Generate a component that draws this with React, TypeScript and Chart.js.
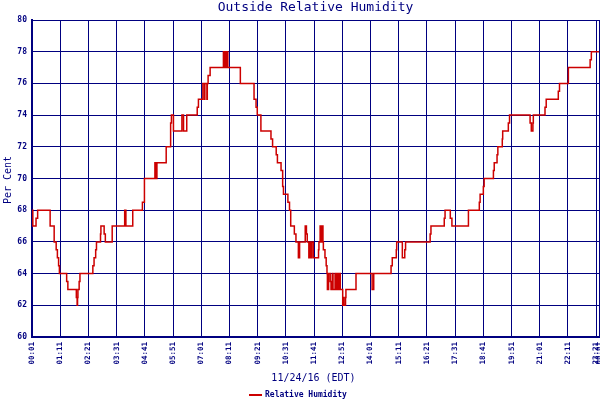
import React, { useEffect, useRef } from 'react';
import { Chart, registerables, type ChartConfiguration, type Plugin } from 'chart.js';

Chart.register(...registerables);

const NAVY = '#000080';
const RED = '#cc0000';
const MONO = '"DejaVu Sans Mono", "Liberation Mono", monospace';

// sample number (one per reading) where the humidity steps to a new value
const sampleIdx = [
  0, 2, 10, 14, 45, 55, 60, 63, 66, 68, 86, 89, 110, 112, 113, 114, 117, 119,
  151, 154, 158, 160, 170, 171, 179, 182, 199, 230, 233, 250, 274, 279, 305, 308,
  310, 333, 344, 346, 351, 372, 376, 384, 410, 413, 424, 428, 429, 434, 435, 437,
  442, 475, 478, 481, 483, 485, 486, 517, 551, 556, 559, 568, 593, 597, 606, 609,
  618, 622, 624, 635, 639, 642, 651, 655, 661, 664, 678, 681, 683, 687, 689, 692,
  694, 698, 711, 712, 715, 717, 719, 722, 723, 727, 730, 732, 733, 736, 740, 742,
  745, 747, 752, 755, 758, 760, 763, 765, 771, 773, 774, 778, 779, 804, 844, 848,
  891, 894, 904, 905, 919, 925, 927, 988, 990, 1023, 1025, 1038, 1042, 1083, 1110,
  1112, 1120, 1122, 1145, 1147, 1154, 1156, 1167, 1168, 1182, 1185, 1236, 1239,
  1243, 1244, 1273, 1276, 1306, 1309, 1331, 1385, 1388, 1407,
];

const humidity = [
  68, 67, 67.5, 68, 67, 66, 65.5, 65, 64.5, 64, 63.5, 63, 62.5, 62, 62.5, 63, 63.5, 64,
  64.5, 65, 65.5, 66, 66.5, 67, 66.5, 66, 67, 68, 67, 68, 68.5, 70, 71, 70,
  71, 72, 73.5, 74, 73, 74, 73, 74, 74.5, 75, 76, 75, 76, 75, 76, 76.5,
  77, 78, 77, 78, 77, 78, 77, 76, 75, 74.5, 74, 73, 72.5, 72, 71.5, 71,
  70.5, 69.5, 69, 68.5, 68, 67, 66.5, 66, 65, 66, 67, 66.5, 66, 65, 66, 65,
  66, 65, 65.5, 66, 67, 66, 67, 66, 65.5, 65, 64.5, 64, 63, 64, 63.5, 63,
  64, 63, 64, 63, 64, 63, 64, 63, 62, 62.5, 62, 62.5, 63, 64, 63, 64,
  64.5, 65, 65.5, 66, 65, 65.5, 66, 66.5, 67, 67.5, 68, 67.5, 67, 68, 68.5,
  69, 69.5, 70, 70.5, 71, 71.5, 72, 72.5, 73, 73.5, 74, 73.5, 73,
  73.5, 74, 74.5, 75, 75.5, 76, 77, 77.5, 78, 78,
];

const tickIdx = [
  0, 70, 140, 210, 280, 350, 420, 490, 560, 630, 700, 770, 840, 910, 980, 1050,
  1120, 1190, 1260, 1330, 1400, 1407,
];
const tickLabels = [
  '00:01', '01:11', '02:21', '03:31', '04:41', '05:51', '07:01', '08:11', '09:21',
  '10:31', '11:41', '12:51', '14:01', '15:11', '16:21', '17:31', '18:41', '19:51',
  '21:01', '22:11', '23:21', '00:01',
];

const titleText = 'Outside Relative Humidity';
const xTitle = '11/24/16 (EDT)';
const yTitle = 'Per Cent';
const seriesName = 'Relative Humidity';

const textPlugin: Plugin = {
  id: 'texts',
  afterDraw(chart) {
    const { ctx, chartArea } = chart;
    const cx = (chartArea.left + chartArea.right) / 2;
    ctx.save();
    ctx.fillStyle = NAVY;
    ctx.textAlign = 'center';
    ctx.textBaseline = 'middle';

    ctx.font = `13px ${MONO}`;
    ctx.fillText(titleText, cx, 8);

    ctx.font = `10px ${MONO}`;
    ctx.fillText(xTitle, cx - 2, 378);

    ctx.save();
    ctx.translate(8, 180);
    ctx.rotate(-Math.PI / 2);
    ctx.fillText(yTitle, 0, 0);
    ctx.restore();

    // legend
    ctx.strokeStyle = RED;
    ctx.lineWidth = 2;
    ctx.beginPath();
    ctx.moveTo(249, 395);
    ctx.lineTo(262, 395);
    ctx.stroke();
    ctx.textAlign = 'left';
    ctx.font = `bold 8px ${MONO}`;
    ctx.fillText(seriesName, 265, 395);
    ctx.restore();
  },
};

export default function App() {
  const canvasRef = useRef<HTMLCanvasElement>(null);

  useEffect(() => {
    if (!canvasRef.current) return;

    const config: ChartConfiguration = {
      type: 'line',
      data: {
        datasets: [
          {
            label: seriesName,
            data: sampleIdx.map((x, i) => ({ x, y: humidity[i] })),
            borderColor: RED,
            borderWidth: 1.5,
            pointRadius: 0,
            stepped: true,
            fill: false,
          },
        ],
      },
      options: {
        animation: false,
        responsive: true,
        maintainAspectRatio: false,
        layout: { padding: { top: 20, right: 1, left: 0, bottom: 0 } },
        plugins: {
          legend: { display: false },
          title: { display: false },
          tooltip: { enabled: false },
        },
        scales: {
          x: {
            type: 'linear',
            min: 0,
            max: 1407,
            afterBuildTicks: scale => {
              scale.ticks = tickIdx.map(value => ({ value }));
            },
            afterFit: scale => {
              scale.height = 63;
              scale.paddingLeft = 0;
              scale.paddingRight = 0;
            },
            grid: { color: NAVY, lineWidth: 1, drawTicks: false },
            border: { color: NAVY, width: 2 },
            ticks: {
              autoSkip: false,
              minRotation: 90,
              maxRotation: 90,
              padding: 5,
              color: NAVY,
              font: { family: MONO, size: 7.5, weight: 'bold' },
              callback: (_v, i) => tickLabels[i],
            },
          },
          y: {
            min: 60,
            max: 80,
            afterFit: scale => {
              scale.width = 32;
            },
            grid: { color: NAVY, lineWidth: 1, drawTicks: false },
            border: { color: NAVY, width: 2 },
            ticks: {
              stepSize: 2,
              padding: 5,
              color: NAVY,
              font: { family: MONO, size: 8, weight: 'bold' },
            },
          },
        },
      },
      plugins: [textPlugin],
    };

    const chart = new Chart(canvasRef.current, config);
    return () => chart.destroy();
  }, []);

  return (
    <div style={{ position: 'absolute', left: 0, top: 0, width: 600, height: 400, background: '#fff' }}>
      <canvas ref={canvasRef} role="img" aria-label="Outside relative humidity line chart" />
    </div>
  );
}
